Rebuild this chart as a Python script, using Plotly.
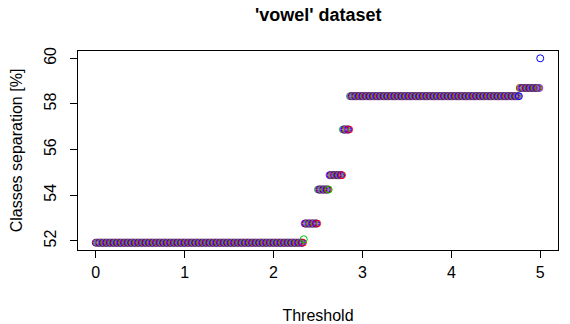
import numpy as np
import plotly.graph_objects as go

# threshold grid (step 0.01) and the separation level reached on each run of it
thresholds = np.round(np.arange(0, 501) * 0.01, 2)
seg_end_index = [233, 234, 249, 262, 277, 285, 476, 499, 500]
seg_level = [51.92, 52.07, 52.76, 54.25, 54.88, 56.88, 58.34, 58.70, 60.0]
point_colors = ["#0000FF", "#FF0000", "#00C000", "#A020F0"]

x_ticks = [0, 1, 2, 3, 4, 5]
y_ticks = [52, 54, 56, 58, 60]

separation = []
start = 0
for end, lvl in zip(seg_end_index, seg_level):
    separation += [lvl] * (end - start + 1)
    start = end + 1

colors = [point_colors[i % 4] for i in range(len(thresholds))]

fig = go.Figure(go.Scatter(
    x=thresholds, y=separation, mode="markers",
    marker=dict(symbol="circle-open", size=7, color=colors, line=dict(width=1)),
))

FONT = "Liberation Sans, Arial, sans-serif"
axis_style = dict(showgrid=False, zeroline=False, showline=True, mirror=True,
                  automargin=False,
                  linecolor="black", linewidth=1, ticks="outside", ticklen=7,
                  tickcolor="black", tickfont=dict(size=16, color="black", family=FONT))

# page body has an 8px margin, so the figure is 8px smaller than the window
fig.update_layout(
    width=562, height=316,
    margin=dict(l=70, r=12, t=43, b=74),
    paper_bgcolor="white", plot_bgcolor="white",
    showlegend=False,
    font=dict(family=FONT, color="black"),
    title=dict(text="<b>'vowel' dataset</b>", x=0.552, xanchor="center",
               y=0.979, yanchor="middle", font=dict(size=18, family=FONT)),
)
fig.update_xaxes(range=[-0.2, 5.2], tickvals=x_ticks, ticklabelstandoff=1,
                 title=dict(text="Threshold", font=dict(size=16), standoff=31),
                 **axis_style)
fig.update_yaxes(range=[51.6, 60.32], tickvals=y_ticks, tickangle=-90,
                 ticklabelstandoff=8,
                 title=dict(text="Classes separation [%]", font=dict(size=16), standoff=15),
                 **axis_style)

fig.write_html("out.html")
